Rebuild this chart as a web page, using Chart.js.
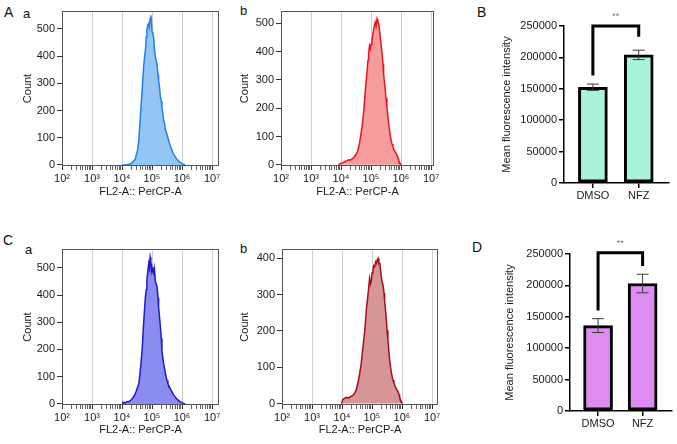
<!DOCTYPE html>
<html><head><meta charset="utf-8">
<script src="https://cdn.jsdelivr.net/npm/chart.js@4/dist/chart.umd.min.js"></script>
<style>
html,body{margin:0;padding:0;background:#fff;width:677px;height:444px;overflow:hidden;position:relative;}
canvas{position:absolute;}
.lbl{position:absolute;font-family:'Liberation Sans',Arial,Helvetica,sans-serif;color:#111;line-height:1;white-space:nowrap;}
.cap{font-size:14px;}
.low{font-size:13px;}
</style></head><body>
<div class="lbl cap" style="left:4px;top:5px;">A</div>
<div class="lbl low" style="left:23px;top:7px;">a</div>
<div class="lbl low" style="left:240px;top:4px;">b</div>
<div class="lbl cap" style="left:477px;top:5px;">B</div>
<div class="lbl cap" style="left:3px;top:233px;">C</div>
<div class="lbl low" style="left:25px;top:243px;">a</div>
<div class="lbl low" style="left:240px;top:242px;">b</div>
<div class="lbl cap" style="left:472px;top:240px;">D</div>
<canvas id="aa"></canvas>
<canvas id="ab"></canvas>
<canvas id="ca"></canvas>
<canvas id="cb"></canvas>
<canvas id="bb"></canvas>
<canvas id="dd"></canvas>
<script>
// ---------- data ----------
const histAxisTitle = 'FL2-A:: PerCP-A';
const histCountTitle = 'Count';
const decadeExponents = [2, 3, 4, 5, 6, 7];

const aaLog   = [4.00,4.15,4.30,4.44,4.52,4.56,4.61,4.67,4.72,4.76,4.78,4.81,4.83,4.86,4.89,4.91,4.94,4.96,4.98,5.00,5.03,5.06,5.08,5.11,5.14,5.17,5.20,5.22,5.25,5.28,5.31,5.33,5.36,5.39,5.42,5.44,5.50,5.56,5.61,5.67,5.72,5.78,5.83,5.89,5.94,6.00,6.05,6.11];
const aaCount = [0,1,4,21,55,89,175,274,360,405,421,470,495,515,520,508,538,550,530,489,480,464,430,397,385,366,330,311,285,249,235,212,190,163,150,132,112,89,70,52,40,28,22,13,9,5,2,0];

const abLog   = [3.92,3.97,4.03,4.10,4.14,4.20,4.26,4.32,4.37,4.43,4.48,4.54,4.59,4.64,4.70,4.76,4.81,4.87,4.90,4.92,4.95,4.98,5.00,5.03,5.06,5.09,5.12,5.14,5.17,5.20,5.23,5.26,5.29,5.31,5.34,5.37,5.40,5.42,5.45,5.48,5.50,5.53,5.56,5.59,5.62,5.64,5.67,5.70,5.73,5.76,5.78,5.81,5.84,5.87,5.90,5.92,5.96,6.01];
const abCount = [0,4,6,9,13,15,18,17,21,26,33,45,62,92,133,192,262,333,370,392,420,409,425,439,460,480,495,503,490,515,505,498,470,451,420,392,355,321,290,262,235,204,175,145,120,104,88,74,64,56,50,45,40,33,24,16,8,0];

const caLog   = [4.00,4.03,4.10,4.16,4.22,4.28,4.33,4.39,4.44,4.50,4.56,4.61,4.67,4.72,4.75,4.78,4.81,4.83,4.86,4.89,4.91,4.94,4.96,4.98,5.00,5.03,5.06,5.08,5.11,5.14,5.17,5.20,5.22,5.25,5.28,5.31,5.33,5.36,5.39,5.42,5.44,5.47,5.50,5.53,5.56,5.61,5.67,5.72,5.78,5.83,5.89,5.94,6.00,6.05,6.11];
const caCount = [0,6,4,8,8,12,18,26,37,55,74,122,196,294,345,392,420,453,490,515,500,539,525,490,502,485,478,495,453,440,429,390,355,320,282,240,196,170,147,130,116,100,86,75,67,55,43,33,25,18,12,8,5,2,0];

const cbLog   = [3.98,4.03,4.08,4.14,4.20,4.26,4.31,4.37,4.43,4.48,4.54,4.59,4.64,4.70,4.76,4.81,4.87,4.92,4.95,4.98,5.00,5.03,5.06,5.09,5.12,5.14,5.17,5.20,5.23,5.26,5.29,5.31,5.34,5.37,5.40,5.42,5.45,5.48,5.50,5.53,5.56,5.59,5.62,5.64,5.67,5.70,5.73,5.76,5.78,5.81,5.84,5.87,5.90,5.92,5.96,6.01];
const cbCount = [0,11,14,17,15,18,20,23,30,39,60,83,110,156,202,257,303,345,330,340,360,368,380,377,390,386,395,400,385,386,365,349,335,326,305,285,258,230,202,175,147,119,100,87,75,64,57,50,45,41,36,32,25,18,8,0];

const countTicks500 = [0,100,200,300,400,500];
const countTicks400 = [0,100,200,300,400];

const barCategories = ['DMSO','NFZ'];
const barValueTitle = 'Mean fluorescence intensity';
const valueTicks = [0,50000,100000,150000,200000,250000];
const bMeans  = [152500, 204000];
const bErrors = [5000, 7500];
const dMeans  = [136000, 203000];
const dErrors = [11000, 14750];
// significance brackets: [left leg start, bracket top, right leg end]
const bBracket = [171000, 250000, 233000];
const dBracket = [160000, 252000, 231000];
const sigText = '**';

// ---------- setup ----------
Chart.defaults.font.family = "'Liberation Sans', Arial, Helvetica, sans-serif";
Chart.defaults.font.size = 11;
Chart.defaults.color = '#1a1a1a';

const SUP = {2:'\u00B2',3:'\u00B3',4:'\u2074',5:'\u2075',6:'\u2076',7:'\u2077'};

const framePlugin = {
  id: 'frame',
  afterDraw(chart) {
    const a = chart.chartArea, c = chart.ctx;
    c.save();
    c.strokeStyle = '#555';
    c.lineWidth = 1;
    c.strokeRect(Math.round(a.left) + 0.5, Math.round(a.top) + 0.5,
                 Math.round(a.right - a.left) - 1, Math.round(a.bottom - a.top) - 1);
    c.restore();
  }
};

function place(id, pos) {
  const cv = document.getElementById(id);
  cv.width = pos.w; cv.height = pos.h;
  cv.style.left = pos.x + 'px'; cv.style.top = pos.y + 'px';
  cv.style.width = pos.w + 'px'; cv.style.height = pos.h + 'px';
  return cv;
}

function histChart(id, pos, area, titleX, xs, ys, xMax, yMin, yMax, yTicks, line, fill) {
  const cv = place(id, pos);
  const scaleLeft = titleX - 10.6;
  new Chart(cv, {
    type: 'line',
    data: { datasets: [{
      data: xs.map((x, i) => ({ x: x, y: ys[i] })),
      borderColor: line, backgroundColor: fill, borderWidth: 1.5,
      fill: 'origin', pointRadius: 0, tension: 0
    }]},
    options: {
      responsive: false, animation: false, events: [],
      layout: { padding: { left: scaleLeft - pos.x, top: area.t - pos.y, right: pos.x + pos.w - area.r, bottom: 0 } },
      plugins: { legend: { display: false }, tooltip: { enabled: false } },
      scales: {
        x: {
          type: 'linear', min: 2, max: xMax,
          afterBuildTicks: s => {
            const t = [];
            decadeExponents.forEach(e => {
              if (e <= xMax) t.push({ value: e });
              for (let k = 2; k <= 9; k++) {
                const v = e + Math.log10(k);
                if (v <= xMax) t.push({ value: v });
              }
            });
            s.ticks = t;
          },
          afterFit: s => { s.height = pos.y + pos.h - area.b; s.paddingLeft = 0; s.paddingRight = 0; },
          grid: {
            color: ctx => (ctx.tick && Number.isInteger(ctx.tick.value) && ctx.tick.value > 2) ? '#cfcfcf' : 'rgba(0,0,0,0)',
            tickColor: ctx => (ctx.tick && Number.isInteger(ctx.tick.value)) ? '#333' : '#666',
            tickLength: 4, lineWidth: 1
          },
          border: { display: false },
          ticks: {
            autoSkip: false, maxRotation: 0, minRotation: 0, padding: 2,
            callback: v => Number.isInteger(v) ? '10' + SUP[v] : ''
          },
          title: { display: true, text: histAxisTitle, padding: { top: 2, bottom: 4 } }
        },
        y: {
          min: yMin, max: yMax,
          afterBuildTicks: s => { s.ticks = yTicks.map(v => ({ value: v })); },
          afterFit: s => { s.width = area.l - scaleLeft; s.paddingTop = 0; s.paddingBottom = 0; },
          grid: { color: 'rgba(0,0,0,0)', tickColor: '#333', tickLength: 5 },
          border: { display: false },
          ticks: { padding: 2 },
          title: { display: true, text: histCountTitle, padding: { top: 4, bottom: 4 } }
        }
      }
    },
    plugins: [framePlugin]
  });
}

function barChart(id, pos, area, titleX, means, errs, fill, bracket) {
  const cv = place(id, pos);
  const scaleLeft = titleX - 10.6;
  const extras = {
    id: 'extras',
    afterDatasetsDraw(chart) {
      const c = chart.ctx, xs = chart.scales.x, ys = chart.scales.y;
      c.save();
      // error bars
      c.strokeStyle = '#3a3a3a'; c.lineWidth = 1;
      means.forEach((m, i) => {
        const x = xs.getPixelForValue(i + 1);
        const yt = ys.getPixelForValue(m + errs[i]);
        const yb = ys.getPixelForValue(m - errs[i]);
        c.beginPath();
        c.moveTo(x, yt); c.lineTo(x, yb);
        c.moveTo(x - 6, yt); c.lineTo(x + 6, yt);
        c.moveTo(x - 6, yb); c.lineTo(x + 6, yb);
        c.stroke();
      });
      // significance bracket
      const x1 = xs.getPixelForValue(1), x2 = xs.getPixelForValue(2);
      const yTop = ys.getPixelForValue(bracket[1]);
      c.strokeStyle = '#000'; c.lineWidth = 3; c.lineJoin = 'miter'; c.lineCap = 'butt';
      c.beginPath();
      c.moveTo(x1, ys.getPixelForValue(bracket[0]));
      c.lineTo(x1, yTop); c.lineTo(x2, yTop);
      c.lineTo(x2, ys.getPixelForValue(bracket[2]));
      c.stroke();
      c.fillStyle = '#777';
      c.font = "9px 'Liberation Sans', Arial, sans-serif";
      c.textAlign = 'center'; c.textBaseline = 'middle';
      c.fillText(sigText, (x1 + x2) / 2, yTop - 9);
      c.restore();
    }
  };
  new Chart(cv, {
    type: 'bar',
    data: { datasets: [{
      data: means.map((m, i) => ({ x: i + 1, y: m })),
      backgroundColor: fill, borderColor: '#000', borderWidth: 3,
      borderSkipped: false, barThickness: 29
    }]},
    options: {
      responsive: false, animation: false, events: [],
      layout: { padding: { left: scaleLeft - pos.x, top: area.t - pos.y, right: pos.x + pos.w - area.r, bottom: 0 } },
      plugins: { legend: { display: false }, tooltip: { enabled: false } },
      scales: {
        x: {
          type: 'linear', min: 0.37, max: 2.66, offset: false,
          afterBuildTicks: s => { s.ticks = barCategories.map((c, i) => ({ value: i + 1 })); },
          afterFit: s => { s.height = pos.y + pos.h - area.b; s.paddingLeft = 0; s.paddingRight = 0; },
          grid: { offset: false, drawOnChartArea: false, tickColor: '#000', tickLength: 5, lineWidth: 1.5 },
          border: { color: '#000', width: 1.5 },
          ticks: { autoSkip: false, maxRotation: 0, minRotation: 0, padding: 1, callback: v => barCategories[v - 1] }
        },
        y: {
          min: 0, max: 250000,
          afterBuildTicks: s => { s.ticks = valueTicks.map(v => ({ value: v })); },
          afterFit: s => { s.width = area.l - scaleLeft; s.paddingTop = 0; s.paddingBottom = 0; },
          grid: { drawOnChartArea: false, tickColor: '#000', tickLength: 5, lineWidth: 1.5 },
          border: { color: '#000', width: 1.5 },
          ticks: { padding: 2, callback: v => String(v) },
          title: { display: true, text: barValueTitle, padding: { top: 4, bottom: 4 } }
        }
      }
    },
    plugins: [extras]
  });
}

histChart('aa', {x:0, y:0, w:232, h:203}, {l:62, r:219, t:11, b:166}, 28,
          aaLog, aaCount, 7.233, -4, 566, countTicks500, '#1f80ee', '#93c6f5');
histChart('ab', {x:232, y:0, w:213, h:203}, {l:281, r:434, t:11, b:166}, 245,
          abLog, abCount, 7.1, -4, 543, countTicks500, '#e8161c', '#f59c9c');
histChart('ca', {x:0, y:238, w:232, h:203}, {l:62, r:219, t:249, b:405}, 28,
          caLog, caCount, 7.233, -4, 569, countTicks500, '#1c1ccc', '#8b8bf0');
histChart('cb', {x:232, y:238, w:213, h:203}, {l:282, r:438, t:249, b:405}, 245,
          cbLog, cbCount, 7.2, -4, 426, countTicks400, '#a3101a', '#d69696');

barChart('bb', {x:460, y:0, w:217, h:205}, {l:564, r:669, t:26, b:183}, 507,
         bMeans, bErrors, '#a9f3d9', bBracket);
barChart('dd', {x:460, y:220, w:217, h:224}, {l:570, r:672, t:254, b:411}, 510,
         dMeans, dErrors, '#df8cf2', dBracket);
</script>
</body></html>
